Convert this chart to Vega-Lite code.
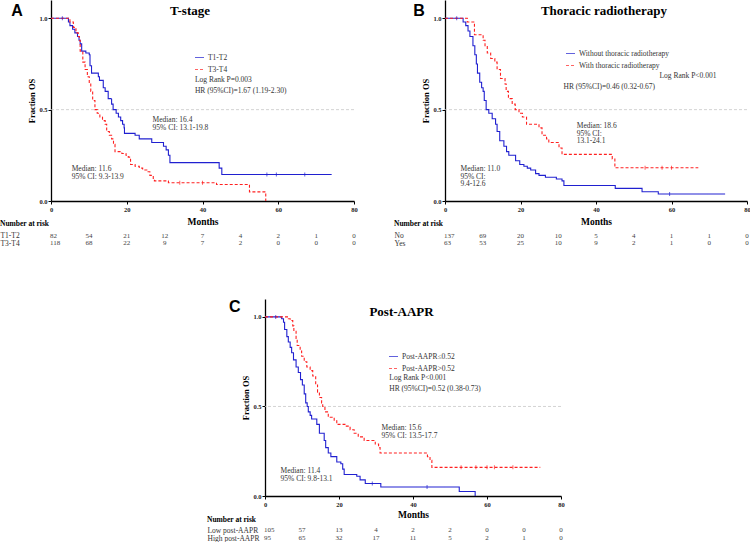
{
"$schema": "https://vega.github.io/schema/vega-lite/v6.json",
"padding": 0,
"background": "white",
"spacing": 51,
"resolve": {"scale": {"color": "independent", "strokeDash": "independent"}},
"config": {
  "view": {"stroke": null},
  "font": "Liberation Serif",
  "axis": {"domainColor": "#000", "domainWidth": 1.3, "tickColor": "#000", "tickSize": 3, "tickWidth": 1, "grid": false, "labelFont": "Liberation Serif", "labelFontWeight": "bold", "labelFontSize": 6.5, "labelColor": "#222", "titleFont": "Liberation Serif", "titleFontWeight": "bold", "titleColor": "#000", "labelFlush": false, "labelOverlap": false},
  "text": {"font": "Liberation Serif", "fontSize": 7.5, "color": "#333"},
  "legend": {"labelFont": "Liberation Serif", "labelFontSize": 7.5, "labelColor": "#333"}
},
"datasets": {
  "kmA": [
    {"g":"T1-T2","t":0,"s":1},{"g":"T1-T2","t":4.6,"s":0.98},{"g":"T1-T2","t":5.0,"s":0.96},{"g":"T1-T2","t":5.7,"s":0.94},{"g":"T1-T2","t":6.3,"s":0.92},{"g":"T1-T2","t":7.0,"s":0.90},{"g":"T1-T2","t":7.4,"s":0.88},{"g":"T1-T2","t":7.7,"s":0.86},{"g":"T1-T2","t":8.1,"s":0.82},{"g":"T1-T2","t":9.2,"s":0.81},{"g":"T1-T2","t":10.1,"s":0.80},{"g":"T1-T2","t":10.3,"s":0.74},{"g":"T1-T2","t":10.7,"s":0.70},{"g":"T1-T2","t":12.5,"s":0.68},{"g":"T1-T2","t":12.8,"s":0.66},{"g":"T1-T2","t":13.8,"s":0.62},{"g":"T1-T2","t":14.3,"s":0.60},{"g":"T1-T2","t":15.1,"s":0.56},{"g":"T1-T2","t":16.0,"s":0.53},{"g":"T1-T2","t":16.4,"s":0.50},{"g":"T1-T2","t":17.2,"s":0.48},{"g":"T1-T2","t":17.8,"s":0.46},{"g":"T1-T2","t":18.4,"s":0.44},{"g":"T1-T2","t":18.9,"s":0.42},{"g":"T1-T2","t":19.3,"s":0.40},{"g":"T1-T2","t":19.4,"s":0.37},{"g":"T1-T2","t":22.2,"s":0.36},{"g":"T1-T2","t":23.3,"s":0.34},{"g":"T1-T2","t":26.6,"s":0.32},{"g":"T1-T2","t":29.7,"s":0.30},{"g":"T1-T2","t":30.4,"s":0.28},{"g":"T1-T2","t":31.0,"s":0.25},{"g":"T1-T2","t":31.4,"s":0.21},{"g":"T1-T2","t":44.4,"s":0.18},{"g":"T1-T2","t":45.1,"s":0.145},{"g":"T1-T2","t":74.1,"s":0.145},
    {"g":"T3-T4","t":0,"s":1},{"g":"T3-T4","t":5.0,"s":0.98},{"g":"T3-T4","t":5.9,"s":0.95},{"g":"T3-T4","t":6.6,"s":0.92},{"g":"T3-T4","t":7.2,"s":0.90},{"g":"T3-T4","t":7.5,"s":0.88},{"g":"T3-T4","t":7.7,"s":0.82},{"g":"T3-T4","t":8.4,"s":0.76},{"g":"T3-T4","t":9.0,"s":0.72},{"g":"T3-T4","t":9.6,"s":0.68},{"g":"T3-T4","t":10.1,"s":0.64},{"g":"T3-T4","t":10.5,"s":0.60},{"g":"T3-T4","t":11.0,"s":0.55},{"g":"T3-T4","t":11.6,"s":0.50},{"g":"T3-T4","t":12.2,"s":0.48},{"g":"T3-T4","t":12.9,"s":0.46},{"g":"T3-T4","t":13.6,"s":0.44},{"g":"T3-T4","t":14.3,"s":0.42},{"g":"T3-T4","t":14.7,"s":0.38},{"g":"T3-T4","t":15.4,"s":0.36},{"g":"T3-T4","t":16.0,"s":0.34},{"g":"T3-T4","t":16.5,"s":0.31},{"g":"T3-T4","t":16.9,"s":0.27},{"g":"T3-T4","t":18.7,"s":0.26},{"g":"T3-T4","t":19.8,"s":0.25},{"g":"T3-T4","t":20.4,"s":0.24},{"g":"T3-T4","t":21.0,"s":0.20},{"g":"T3-T4","t":22.2,"s":0.19},{"g":"T3-T4","t":23.3,"s":0.18},{"g":"T3-T4","t":24.2,"s":0.17},{"g":"T3-T4","t":25.3,"s":0.16},{"g":"T3-T4","t":26.1,"s":0.14},{"g":"T3-T4","t":27.0,"s":0.12},{"g":"T3-T4","t":27.3,"s":0.11},{"g":"T3-T4","t":31.0,"s":0.10},{"g":"T3-T4","t":43.7,"s":0.09},{"g":"T3-T4","t":52.4,"s":0.05},{"g":"T3-T4","t":56.7,"s":0.0}
  ],
  "cenA": [
    {"g":"T1-T2","t":3,"s":1},{"g":"T1-T2","t":57,"s":0.145},{"g":"T1-T2","t":59.5,"s":0.145},{"g":"T1-T2","t":67,"s":0.145},{"g":"T3-T4","t":34,"s":0.10},{"g":"T3-T4","t":40,"s":0.10}
  ],
  "riskA": [
    {"g":"T1-T2","t":0,"n":82},{"g":"T1-T2","t":10,"n":54},{"g":"T1-T2","t":20,"n":21},{"g":"T1-T2","t":30,"n":12},{"g":"T1-T2","t":40,"n":7},{"g":"T1-T2","t":50,"n":4},{"g":"T1-T2","t":60,"n":2},{"g":"T1-T2","t":70,"n":1},{"g":"T1-T2","t":80,"n":0},
    {"g":"T3-T4","t":0,"n":118},{"g":"T3-T4","t":10,"n":68},{"g":"T3-T4","t":20,"n":22},{"g":"T3-T4","t":30,"n":9},{"g":"T3-T4","t":40,"n":7},{"g":"T3-T4","t":50,"n":2},{"g":"T3-T4","t":60,"n":0},{"g":"T3-T4","t":70,"n":0},{"g":"T3-T4","t":80,"n":0}
  ],
  "kmB": [
    {"g":"Without thoracic radiotherapy","t":0,"s":1},{"g":"Without thoracic radiotherapy","t":4.8,"s":0.98},{"g":"Without thoracic radiotherapy","t":5.5,"s":0.96},{"g":"Without thoracic radiotherapy","t":6.1,"s":0.93},{"g":"Without thoracic radiotherapy","t":6.6,"s":0.90},{"g":"Without thoracic radiotherapy","t":7.4,"s":0.85},{"g":"Without thoracic radiotherapy","t":7.9,"s":0.80},{"g":"Without thoracic radiotherapy","t":8.3,"s":0.75},{"g":"Without thoracic radiotherapy","t":8.6,"s":0.70},{"g":"Without thoracic radiotherapy","t":9.2,"s":0.65},{"g":"Without thoracic radiotherapy","t":9.7,"s":0.62},{"g":"Without thoracic radiotherapy","t":10.1,"s":0.60},{"g":"Without thoracic radiotherapy","t":10.4,"s":0.55},{"g":"Without thoracic radiotherapy","t":10.9,"s":0.50},{"g":"Without thoracic radiotherapy","t":11.6,"s":0.48},{"g":"Without thoracic radiotherapy","t":12.5,"s":0.45},{"g":"Without thoracic radiotherapy","t":13.4,"s":0.42},{"g":"Without thoracic radiotherapy","t":13.8,"s":0.38},{"g":"Without thoracic radiotherapy","t":14.5,"s":0.33},{"g":"Without thoracic radiotherapy","t":15.6,"s":0.30},{"g":"Without thoracic radiotherapy","t":16.3,"s":0.27},{"g":"Without thoracic radiotherapy","t":16.9,"s":0.25},{"g":"Without thoracic radiotherapy","t":18.7,"s":0.22},{"g":"Without thoracic radiotherapy","t":19.8,"s":0.20},{"g":"Without thoracic radiotherapy","t":20.9,"s":0.19},{"g":"Without thoracic radiotherapy","t":21.8,"s":0.18},{"g":"Without thoracic radiotherapy","t":22.7,"s":0.17},{"g":"Without thoracic radiotherapy","t":24.0,"s":0.15},{"g":"Without thoracic radiotherapy","t":24.9,"s":0.14},{"g":"Without thoracic radiotherapy","t":26.6,"s":0.13},{"g":"Without thoracic radiotherapy","t":29.5,"s":0.12},{"g":"Without thoracic radiotherapy","t":31.0,"s":0.11},{"g":"Without thoracic radiotherapy","t":31.5,"s":0.085},{"g":"Without thoracic radiotherapy","t":45.1,"s":0.069},{"g":"Without thoracic radiotherapy","t":52.2,"s":0.051},{"g":"Without thoracic radiotherapy","t":56.5,"s":0.038},{"g":"Without thoracic radiotherapy","t":74.2,"s":0.038},
    {"g":"With thoracic radiotherapy","t":0,"s":1},{"g":"With thoracic radiotherapy","t":5.9,"s":0.98},{"g":"With thoracic radiotherapy","t":7.8,"s":0.91},{"g":"With thoracic radiotherapy","t":10.1,"s":0.88},{"g":"With thoracic radiotherapy","t":10.6,"s":0.85},{"g":"With thoracic radiotherapy","t":11.2,"s":0.81},{"g":"With thoracic radiotherapy","t":12.1,"s":0.78},{"g":"With thoracic radiotherapy","t":13.2,"s":0.76},{"g":"With thoracic radiotherapy","t":13.8,"s":0.72},{"g":"With thoracic radiotherapy","t":14.7,"s":0.67},{"g":"With thoracic radiotherapy","t":15.9,"s":0.64},{"g":"With thoracic radiotherapy","t":16.2,"s":0.60},{"g":"With thoracic radiotherapy","t":16.8,"s":0.56},{"g":"With thoracic radiotherapy","t":17.8,"s":0.53},{"g":"With thoracic radiotherapy","t":18.6,"s":0.50},{"g":"With thoracic radiotherapy","t":19.6,"s":0.48},{"g":"With thoracic radiotherapy","t":20.5,"s":0.46},{"g":"With thoracic radiotherapy","t":21.6,"s":0.42},{"g":"With thoracic radiotherapy","t":24.9,"s":0.40},{"g":"With thoracic radiotherapy","t":25.7,"s":0.36},{"g":"With thoracic radiotherapy","t":26.9,"s":0.34},{"g":"With thoracic radiotherapy","t":27.5,"s":0.32},{"g":"With thoracic radiotherapy","t":30.2,"s":0.29},{"g":"With thoracic radiotherapy","t":31.0,"s":0.255},{"g":"With thoracic radiotherapy","t":44.3,"s":0.23},{"g":"With thoracic radiotherapy","t":45.0,"s":0.182},{"g":"With thoracic radiotherapy","t":67.1,"s":0.182}
  ],
  "cenB": [
    {"g":"Without thoracic radiotherapy","t":3.1,"s":1},{"g":"Without thoracic radiotherapy","t":59.5,"s":0.038},{"g":"With thoracic radiotherapy","t":53,"s":0.182},{"g":"With thoracic radiotherapy","t":57.5,"s":0.182},{"g":"With thoracic radiotherapy","t":60,"s":0.182}
  ],
  "riskB": [
    {"g":"No","t":0,"n":137},{"g":"No","t":10,"n":69},{"g":"No","t":20,"n":20},{"g":"No","t":30,"n":10},{"g":"No","t":40,"n":5},{"g":"No","t":50,"n":4},{"g":"No","t":60,"n":1},{"g":"No","t":70,"n":1},{"g":"No","t":80,"n":0},
    {"g":"Yes","t":0,"n":63},{"g":"Yes","t":10,"n":53},{"g":"Yes","t":20,"n":25},{"g":"Yes","t":30,"n":10},{"g":"Yes","t":40,"n":9},{"g":"Yes","t":50,"n":2},{"g":"Yes","t":60,"n":1},{"g":"Yes","t":70,"n":0},{"g":"Yes","t":80,"n":0}
  ],
  "kmC": [
    {"g":"Post-AAPR≤0.52","t":0,"s":1},{"g":"Post-AAPR≤0.52","t":4.5,"s":0.99},{"g":"Post-AAPR≤0.52","t":5.0,"s":0.97},{"g":"Post-AAPR≤0.52","t":5.3,"s":0.93},{"g":"Post-AAPR≤0.52","t":5.9,"s":0.89},{"g":"Post-AAPR≤0.52","t":6.3,"s":0.86},{"g":"Post-AAPR≤0.52","t":6.8,"s":0.83},{"g":"Post-AAPR≤0.52","t":7.2,"s":0.80},{"g":"Post-AAPR≤0.52","t":7.7,"s":0.76},{"g":"Post-AAPR≤0.52","t":8.4,"s":0.72},{"g":"Post-AAPR≤0.52","t":9.0,"s":0.69},{"g":"Post-AAPR≤0.52","t":9.6,"s":0.65},{"g":"Post-AAPR≤0.52","t":10.1,"s":0.62},{"g":"Post-AAPR≤0.52","t":10.6,"s":0.57},{"g":"Post-AAPR≤0.52","t":11.0,"s":0.52},{"g":"Post-AAPR≤0.52","t":11.4,"s":0.50},{"g":"Post-AAPR≤0.52","t":11.7,"s":0.47},{"g":"Post-AAPR≤0.52","t":12.2,"s":0.45},{"g":"Post-AAPR≤0.52","t":12.6,"s":0.43},{"g":"Post-AAPR≤0.52","t":14.0,"s":0.40},{"g":"Post-AAPR≤0.52","t":14.7,"s":0.35},{"g":"Post-AAPR≤0.52","t":16.0,"s":0.31},{"g":"Post-AAPR≤0.52","t":16.4,"s":0.27},{"g":"Post-AAPR≤0.52","t":17.1,"s":0.24},{"g":"Post-AAPR≤0.52","t":17.8,"s":0.22},{"g":"Post-AAPR≤0.52","t":19.4,"s":0.19},{"g":"Post-AAPR≤0.52","t":20.5,"s":0.18},{"g":"Post-AAPR≤0.52","t":21.0,"s":0.15},{"g":"Post-AAPR≤0.52","t":21.4,"s":0.12},{"g":"Post-AAPR≤0.52","t":24.8,"s":0.11},{"g":"Post-AAPR≤0.52","t":25.7,"s":0.09},{"g":"Post-AAPR≤0.52","t":27.1,"s":0.07},{"g":"Post-AAPR≤0.52","t":31.3,"s":0.05},{"g":"Post-AAPR≤0.52","t":52.5,"s":0.025},{"g":"Post-AAPR≤0.52","t":56.8,"s":0.0},
    {"g":"Post-AAPR>0.52","t":0,"s":1},{"g":"Post-AAPR>0.52","t":6.3,"s":0.99},{"g":"Post-AAPR>0.52","t":6.8,"s":0.98},{"g":"Post-AAPR>0.52","t":7.5,"s":0.95},{"g":"Post-AAPR>0.52","t":7.8,"s":0.92},{"g":"Post-AAPR>0.52","t":8.4,"s":0.88},{"g":"Post-AAPR>0.52","t":8.7,"s":0.84},{"g":"Post-AAPR>0.52","t":9.5,"s":0.81},{"g":"Post-AAPR>0.52","t":9.9,"s":0.78},{"g":"Post-AAPR>0.52","t":10.6,"s":0.75},{"g":"Post-AAPR>0.52","t":11.3,"s":0.72},{"g":"Post-AAPR>0.52","t":12.2,"s":0.70},{"g":"Post-AAPR>0.52","t":12.9,"s":0.67},{"g":"Post-AAPR>0.52","t":13.7,"s":0.62},{"g":"Post-AAPR>0.52","t":14.2,"s":0.58},{"g":"Post-AAPR>0.52","t":14.7,"s":0.55},{"g":"Post-AAPR>0.52","t":15.3,"s":0.52},{"g":"Post-AAPR>0.52","t":15.6,"s":0.50},{"g":"Post-AAPR>0.52","t":16.2,"s":0.47},{"g":"Post-AAPR>0.52","t":17.1,"s":0.44},{"g":"Post-AAPR>0.52","t":18.7,"s":0.42},{"g":"Post-AAPR>0.52","t":19.4,"s":0.40},{"g":"Post-AAPR>0.52","t":21.6,"s":0.39},{"g":"Post-AAPR>0.52","t":23.0,"s":0.37},{"g":"Post-AAPR>0.52","t":24.1,"s":0.35},{"g":"Post-AAPR>0.52","t":25.2,"s":0.33},{"g":"Post-AAPR>0.52","t":26.8,"s":0.31},{"g":"Post-AAPR>0.52","t":29.8,"s":0.29},{"g":"Post-AAPR>0.52","t":30.7,"s":0.27},{"g":"Post-AAPR>0.52","t":31.1,"s":0.24},{"g":"Post-AAPR>0.52","t":43.9,"s":0.22},{"g":"Post-AAPR>0.52","t":44.6,"s":0.20},{"g":"Post-AAPR>0.52","t":45.1,"s":0.16},{"g":"Post-AAPR>0.52","t":74.4,"s":0.16}
  ],
  "cenC": [
    {"g":"Post-AAPR≤0.52","t":2.9,"s":1},{"g":"Post-AAPR≤0.52","t":29,"s":0.07},{"g":"Post-AAPR≤0.52","t":43.8,"s":0.05},{"g":"Post-AAPR>0.52","t":53,"s":0.16},{"g":"Post-AAPR>0.52","t":57,"s":0.16},{"g":"Post-AAPR>0.52","t":60,"s":0.16},{"g":"Post-AAPR>0.52","t":62,"s":0.16},{"g":"Post-AAPR>0.52","t":67,"s":0.16}
  ],
  "riskC": [
    {"g":"Low post-AAPR","t":0,"n":105},{"g":"Low post-AAPR","t":10,"n":57},{"g":"Low post-AAPR","t":20,"n":13},{"g":"Low post-AAPR","t":30,"n":4},{"g":"Low post-AAPR","t":40,"n":2},{"g":"Low post-AAPR","t":50,"n":2},{"g":"Low post-AAPR","t":60,"n":0},{"g":"Low post-AAPR","t":70,"n":0},{"g":"Low post-AAPR","t":80,"n":0},
    {"g":"High post-AAPR","t":0,"n":95},{"g":"High post-AAPR","t":10,"n":65},{"g":"High post-AAPR","t":20,"n":32},{"g":"High post-AAPR","t":30,"n":17},{"g":"High post-AAPR","t":40,"n":11},{"g":"High post-AAPR","t":50,"n":5},{"g":"High post-AAPR","t":60,"n":2},{"g":"High post-AAPR","t":70,"n":1},{"g":"High post-AAPR","t":80,"n":0}
  ]
},
"vconcat": [
  {
    "hconcat": [
      {
        "vconcat": [
          {
            "width": 303, "height": 201,
            "layer": [
              {"data": {"values": [{}]}, "mark": {"type": "rule", "color": "#c8c8c8", "strokeDash": [3, 2], "strokeWidth": 0.8}, "encoding": {"y": {"datum": 0.5}}},
              {"data": {"name": "kmA"}, "mark": {"type": "line", "interpolate": "step-after", "strokeWidth": 1.1},
               "encoding": {
                 "x": {"field": "t", "type": "quantitative", "scale": {"domain": [0, 80], "nice": false}, "axis": {"values": [0,10,20,30,40,50,60,70,80], "title": "Months", "titleFontSize": 9.5, "labelPadding": 2, "titlePadding": 4}},
                 "y": {"field": "s", "type": "quantitative", "scale": {"domain": [0, 1.1], "nice": false}, "axis": {"values": [0, 0.5, 1], "format": ".1f", "title": "Fraction OS", "titleFontSize": 8.5, "labelPadding": 1, "titlePadding": 2}},
                 "color": {"field": "g", "type": "nominal", "scale": {"domain": ["T1-T2", "T3-T4"], "range": ["#2020d0", "#ff2020"]}, "legend": {"orient": "none", "legendX": 143, "legendY": 52, "title": null, "symbolType": "stroke", "symbolSize": 81, "symbolStrokeWidth": 1.2, "rowPadding": 3, "padding": 0, "labelOffset": 3}},
                 "strokeDash": {"field": "g", "type": "nominal", "scale": {"domain": ["T1-T2", "T3-T4"], "range": [[1, 0], [3, 2]]}, "legend": {"orient": "none", "legendX": 143, "legendY": 52, "title": null, "symbolType": "stroke", "symbolSize": 81, "symbolStrokeWidth": 1.2, "rowPadding": 3, "padding": 0, "labelOffset": 3}}
               }},
              {"data": {"name": "cenA"}, "mark": {"type": "tick", "orient": "vertical", "size": 4, "thickness": 1}, "encoding": {"x": {"field": "t", "type": "quantitative"}, "y": {"field": "s", "type": "quantitative"}, "color": {"field": "g", "type": "nominal"}}},
              {"data": {"values": [{}]}, "mark": {"type": "text", "font": "Liberation Sans", "fontWeight": "bold", "fontSize": 16, "color": "#000", "align": "center", "baseline": "middle"}, "encoding": {"x": {"datum": -9.0}, "y": {"datum": 1.04}, "text": {"value": "A"}}},
              {"data": {"values": [{}]}, "mark": {"type": "text", "fontWeight": "bold", "fontSize": 13, "color": "#000", "align": "center", "baseline": "middle"}, "encoding": {"x": {"datum": 36.7}, "y": {"datum": 1.04}, "text": {"value": "T-stage"}}},
              {"data": {"values": [{}]}, "mark": {"type": "text", "align": "left", "baseline": "top", "lineHeight": 7.7}, "encoding": {"x": {"datum": 26.8}, "y": {"datum": 0.464}, "text": {"value": ["Median: 16.4", "95% CI: 13.1-19.8"]}}},
              {"data": {"values": [{}]}, "mark": {"type": "text", "align": "left", "baseline": "top", "lineHeight": 7.7}, "encoding": {"x": {"datum": 5.46}, "y": {"datum": 0.197}, "text": {"value": ["Median: 11.6", "95% CI: 9.3-13.9"]}}},
              {"data": {"values": [{}]}, "mark": {"type": "text", "align": "left", "baseline": "middle"}, "encoding": {"x": {"datum": 38.0}, "y": {"datum": 0.661}, "text": {"value": "Log Rank P=0.003"}}},
              {"data": {"values": [{}]}, "mark": {"type": "text", "align": "left", "baseline": "middle"}, "encoding": {"x": {"datum": 38.0}, "y": {"datum": 0.603}, "text": {"value": "HR (95%CI)=1.67 (1.19-2.30)"}}}
            ]
          },
          {
            "width": 303, "height": 15,
            "data": {"name": "riskA"},
            "title": {"text": "Number at risk", "anchor": "start", "offset": 4, "fontSize": 7.5, "font": "Liberation Serif", "fontWeight": "bold", "color": "#000"},
            "encoding": {
              "x": {"field": "t", "type": "quantitative", "scale": {"domain": [0, 80], "nice": false}, "axis": null},
              "y": {"field": "g", "type": "nominal", "sort": ["T1-T2", "T3-T4"], "scale": {"type": "point", "padding": 0.5}, "axis": {"title": null, "domain": false, "ticks": false, "labelAlign": "left", "labelPadding": 51, "labelFontWeight": "normal", "labelFontSize": 7.5, "labelColor": "#333"}},
              "text": {"field": "n", "type": "quantitative"}
            },
            "layer": [
              {"transform": [{"filter": "datum.t == 0"}], "mark": {"type": "text", "fontSize": 7, "color": "#444", "align": "left", "dx": -1}},
              {"transform": [{"filter": "datum.t > 0"}], "mark": {"type": "text", "fontSize": 7, "color": "#444"}}
            ]
          }
        ],
        "spacing": 31,
        "bounds": "flush"
      },
      {
        "vconcat": [
          {
            "width": 302, "height": 201,
            "layer": [
              {"data": {"values": [{}]}, "mark": {"type": "rule", "color": "#c8c8c8", "strokeDash": [3, 2], "strokeWidth": 0.8}, "encoding": {"y": {"datum": 0.5}}},
              {"data": {"name": "kmB"}, "mark": {"type": "line", "interpolate": "step-after", "strokeWidth": 1.1},
               "encoding": {
                 "x": {"field": "t", "type": "quantitative", "scale": {"domain": [0, 80], "nice": false}, "axis": {"values": [0,10,20,30,40,50,60,70,80], "title": "Months", "titleFontSize": 9.5, "labelPadding": 2, "titlePadding": 4}},
                 "y": {"field": "s", "type": "quantitative", "scale": {"domain": [0, 1.1], "nice": false}, "axis": {"values": [0, 0.5, 1], "format": ".1f", "title": "Fraction OS", "titleFontSize": 8.5, "labelPadding": 1, "titlePadding": 2}},
                 "color": {"field": "g", "type": "nominal", "scale": {"domain": ["Without thoracic radiotherapy", "With thoracic radiotherapy"], "range": ["#2020d0", "#ff2020"]}, "legend": {"orient": "none", "legendX": 120, "legendY": 48, "title": null, "symbolType": "stroke", "symbolSize": 81, "symbolStrokeWidth": 1.2, "rowPadding": 3, "padding": 0, "labelOffset": 3}},
                 "strokeDash": {"field": "g", "type": "nominal", "scale": {"domain": ["Without thoracic radiotherapy", "With thoracic radiotherapy"], "range": [[1, 0], [3, 2]]}, "legend": {"orient": "none", "legendX": 120, "legendY": 48, "title": null, "symbolType": "stroke", "symbolSize": 81, "symbolStrokeWidth": 1.2, "rowPadding": 3, "padding": 0, "labelOffset": 3}}
               }},
              {"data": {"name": "cenB"}, "mark": {"type": "tick", "orient": "vertical", "size": 4, "thickness": 1}, "encoding": {"x": {"field": "t", "type": "quantitative"}, "y": {"field": "s", "type": "quantitative"}, "color": {"field": "g", "type": "nominal"}}},
              {"data": {"values": [{}]}, "mark": {"type": "text", "font": "Liberation Sans", "fontWeight": "bold", "fontSize": 16, "color": "#000", "align": "center", "baseline": "middle"}, "encoding": {"x": {"datum": -6.9}, "y": {"datum": 1.04}, "text": {"value": "B"}}},
              {"data": {"values": [{}]}, "mark": {"type": "text", "fontWeight": "bold", "fontSize": 13, "color": "#000", "align": "center", "baseline": "middle"}, "encoding": {"x": {"datum": 42.1}, "y": {"datum": 1.04}, "text": {"value": "Thoracic radiotherapy"}}},
              {"data": {"values": [{}]}, "mark": {"type": "text", "align": "left", "baseline": "top", "lineHeight": 7.7}, "encoding": {"x": {"datum": 34.9}, "y": {"datum": 0.433}, "text": {"value": ["Median: 18.6", "95% CI:", "13.1-24.1"]}}},
              {"data": {"values": [{}]}, "mark": {"type": "text", "align": "left", "baseline": "top", "lineHeight": 7.7}, "encoding": {"x": {"datum": 4.1}, "y": {"datum": 0.197}, "text": {"value": ["Median: 11.0", "95% CI:", "9.4-12.6"]}}},
              {"data": {"values": [{}]}, "mark": {"type": "text", "align": "right", "baseline": "middle"}, "encoding": {"x": {"datum": 71.9}, "y": {"datum": 0.683}, "text": {"value": "Log Rank P<0.001"}}},
              {"data": {"values": [{}]}, "mark": {"type": "text", "align": "left", "baseline": "middle"}, "encoding": {"x": {"datum": 31.4}, "y": {"datum": 0.625}, "text": {"value": "HR (95%CI)=0.46 (0.32-0.67)"}}}
            ]
          },
          {
            "width": 302, "height": 15,
            "data": {"name": "riskB"},
            "title": {"text": "Number at risk", "anchor": "start", "offset": 4, "fontSize": 7.5, "font": "Liberation Serif", "fontWeight": "bold", "color": "#000"},
            "encoding": {
              "x": {"field": "t", "type": "quantitative", "scale": {"domain": [0, 80], "nice": false}, "axis": null},
              "y": {"field": "g", "type": "nominal", "sort": ["No", "Yes"], "scale": {"type": "point", "padding": 0.5}, "axis": {"title": null, "domain": false, "ticks": false, "labelAlign": "left", "labelPadding": 51, "labelFontWeight": "normal", "labelFontSize": 7.5, "labelColor": "#333"}},
              "text": {"field": "n", "type": "quantitative"}
            },
            "layer": [
              {"transform": [{"filter": "datum.t == 0"}], "mark": {"type": "text", "fontSize": 7, "color": "#444", "align": "left", "dx": -1}},
              {"transform": [{"filter": "datum.t > 0"}], "mark": {"type": "text", "fontSize": 7, "color": "#444"}}
            ]
          }
        ],
        "spacing": 31,
        "bounds": "flush"
      }
    ],
    "spacing": 36,
    "resolve": {"scale": {"color": "independent", "strokeDash": "independent"}}
  },
  {
    "hconcat": [
      {"width": 151, "height": 10, "data": {"values": [{}]}, "mark": {"type": "rule", "opacity": 0}, "encoding": {"x": {"datum": 0, "type": "quantitative", "scale": {"domain": [0, 1]}, "axis": null}, "x2": {"datum": 1}}},
      {
        "vconcat": [
          {
            "width": 296, "height": 197,
            "layer": [
              {"data": {"values": [{}]}, "mark": {"type": "rule", "color": "#c8c8c8", "strokeDash": [3, 2], "strokeWidth": 0.8}, "encoding": {"y": {"datum": 0.5}}},
              {"data": {"name": "kmC"}, "mark": {"type": "line", "interpolate": "step-after", "strokeWidth": 1.1},
               "encoding": {
                 "x": {"field": "t", "type": "quantitative", "scale": {"domain": [0, 80], "nice": false}, "axis": {"values": [0,10,20,30,40,50,60,70,80], "title": "Months", "titleFontSize": 9.5, "labelPadding": 2, "titlePadding": 2}},
                 "y": {"field": "s", "type": "quantitative", "scale": {"domain": [0, 1.1], "nice": false}, "axis": {"values": [0, 0.5, 1], "format": ".1f", "title": "Fraction OS", "titleFontSize": 8.5, "labelPadding": 1, "titlePadding": 2}},
                 "color": {"field": "g", "type": "nominal", "scale": {"domain": ["Post-AAPR≤0.52", "Post-AAPR>0.52"], "range": ["#2020d0", "#ff2020"]}, "legend": {"orient": "none", "legendX": 123, "legendY": 52, "title": null, "symbolType": "stroke", "symbolSize": 81, "symbolStrokeWidth": 1.2, "rowPadding": 3, "padding": 0, "labelOffset": 3}},
                 "strokeDash": {"field": "g", "type": "nominal", "scale": {"domain": ["Post-AAPR≤0.52", "Post-AAPR>0.52"], "range": [[1, 0], [3, 2]]}, "legend": {"orient": "none", "legendX": 123, "legendY": 52, "title": null, "symbolType": "stroke", "symbolSize": 81, "symbolStrokeWidth": 1.2, "rowPadding": 3, "padding": 0, "labelOffset": 3}}
               }},
              {"data": {"name": "cenC"}, "mark": {"type": "tick", "orient": "vertical", "size": 4, "thickness": 1}, "encoding": {"x": {"field": "t", "type": "quantitative"}, "y": {"field": "s", "type": "quantitative"}, "color": {"field": "g", "type": "nominal"}}},
              {"data": {"values": [{}]}, "mark": {"type": "text", "font": "Liberation Sans", "fontWeight": "bold", "fontSize": 16, "color": "#000", "align": "center", "baseline": "middle"}, "encoding": {"x": {"datum": -8.2}, "y": {"datum": 1.056}, "text": {"value": "C"}}},
              {"data": {"values": [{}]}, "mark": {"type": "text", "fontWeight": "bold", "fontSize": 13, "color": "#000", "align": "center", "baseline": "middle"}, "encoding": {"x": {"datum": 36.9}, "y": {"datum": 1.03}, "text": {"value": "Post-AAPR"}}},
              {"data": {"values": [{}]}, "mark": {"type": "text", "align": "left", "baseline": "top", "lineHeight": 7.7}, "encoding": {"x": {"datum": 31.5}, "y": {"datum": 0.40}, "text": {"value": ["Median: 15.6", "95% CI: 13.5-17.7"]}}},
              {"data": {"values": [{}]}, "mark": {"type": "text", "align": "left", "baseline": "top", "lineHeight": 7.7}, "encoding": {"x": {"datum": 4.2}, "y": {"datum": 0.162}, "text": {"value": ["Median: 11.4", "95% CI: 9.8-13.1"]}}},
              {"data": {"values": [{}]}, "mark": {"type": "text", "align": "left", "baseline": "middle"}, "encoding": {"x": {"datum": 33.6}, "y": {"datum": 0.661}, "text": {"value": "Log Rank P<0.001"}}},
              {"data": {"values": [{}]}, "mark": {"type": "text", "align": "left", "baseline": "middle"}, "encoding": {"x": {"datum": 33.6}, "y": {"datum": 0.60}, "text": {"value": "HR (95%CI)=0.52 (0.38-0.73)"}}}
            ]
          },
          {
            "width": 296, "height": 16,
            "data": {"name": "riskC"},
            "title": {"text": "Number at risk", "anchor": "start", "offset": 3, "fontSize": 7.5, "font": "Liberation Serif", "fontWeight": "bold", "color": "#000"},
            "encoding": {
              "x": {"field": "t", "type": "quantitative", "scale": {"domain": [0, 80], "nice": false}, "axis": null},
              "y": {"field": "g", "type": "nominal", "sort": ["Low post-AAPR", "High post-AAPR"], "scale": {"type": "point", "padding": 0.5}, "axis": {"title": null, "domain": false, "ticks": false, "labelAlign": "left", "labelPadding": 58, "labelFontWeight": "normal", "labelFontSize": 7.5, "labelColor": "#333"}},
              "text": {"field": "n", "type": "quantitative"}
            },
            "layer": [
              {"transform": [{"filter": "datum.t == 0"}], "mark": {"type": "text", "fontSize": 7, "color": "#444", "align": "left", "dx": -1}},
              {"transform": [{"filter": "datum.t > 0"}], "mark": {"type": "text", "fontSize": 7, "color": "#444"}}
            ]
          }
        ],
        "spacing": 30,
        "bounds": "flush"
      }
    ],
    "spacing": 5,
    "resolve": {"scale": {"color": "independent", "strokeDash": "independent"}}
  }
]
}
